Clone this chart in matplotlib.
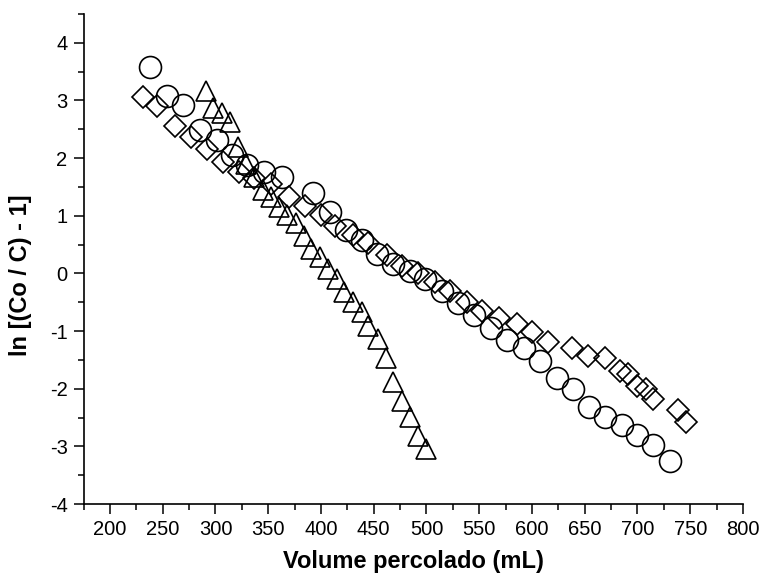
import matplotlib.pyplot as plt
from matplotlib.ticker import MultipleLocator

plt.rcParams["font.family"] = ["Liberation Sans", "DejaVu Sans"]
plt.rcParams["axes.unicode_minus"] = False

# circles
vol_circ = [238, 254, 269, 285, 301, 316, 330, 346, 363, 392, 409, 424, 439,
            453, 468, 484, 499, 515, 530, 545, 561, 576, 592, 608, 624, 639,
            654, 669, 685, 700, 715, 731]
ln_circ = [3.58, 3.08, 2.92, 2.49, 2.32, 2.06, 1.88, 1.76, 1.67, 1.40, 1.06,
           0.75, 0.58, 0.34, 0.17, 0.05, -0.10, -0.30, -0.52, -0.72, -0.95,
           -1.15, -1.30, -1.52, -1.82, -2.00, -2.32, -2.49, -2.63, -2.80,
           -2.98, -3.25]

# diamonds
vol_diam = [231, 245, 262, 277, 292, 307, 322, 337, 353, 370, 385, 400, 413,
            430, 445, 463, 477, 492, 508, 522, 538, 553, 569, 586, 600, 615,
            638, 653, 669, 683, 691, 700, 708, 715, 738, 746]
ln_diam = [3.06, 2.90, 2.55, 2.36, 2.15, 1.94, 1.76, 1.65, 1.55, 1.33, 1.17,
           1.02, 0.83, 0.67, 0.53, 0.32, 0.13, 0.00, -0.15, -0.30, -0.50,
           -0.65, -0.77, -0.87, -1.02, -1.19, -1.29, -1.43, -1.47, -1.70,
           -1.74, -1.96, -2.00, -2.18, -2.37, -2.58]

# triangles
vol_tri = [291, 298, 306, 314, 321, 329, 337, 345, 353, 360, 368, 376, 384,
           391, 399, 407, 415, 422, 430, 439, 445, 454, 462, 468, 477, 484,
           492, 500]
ln_tri = [3.17, 2.87, 2.79, 2.63, 2.20, 1.90, 1.68, 1.45, 1.33, 1.15, 1.02,
          0.88, 0.65, 0.42, 0.28, 0.08, -0.10, -0.32, -0.50, -0.67, -0.92,
          -1.14, -1.46, -1.88, -2.21, -2.49, -2.82, -3.05]

fig = plt.figure(figsize=(7.62, 5.81), dpi=100)
ax = fig.add_axes([0.1097, 0.1325, 0.8653, 0.8435])

mk = dict(linestyle="none", markerfacecolor="none", markeredgecolor="black",
          markeredgewidth=1.2)
ax.plot(vol_circ, ln_circ, marker="o", markersize=15.8, **mk)
ax.plot(vol_diam, ln_diam, marker="D", markersize=11.2, **mk)
ax.plot(vol_tri, ln_tri, marker="^", markersize=14.5, **mk)

ax.set_xlim(175, 800)
ax.set_ylim(-4, 4.5)
ax.xaxis.set_major_locator(MultipleLocator(50))
ax.xaxis.set_minor_locator(MultipleLocator(25))
ax.yaxis.set_major_locator(MultipleLocator(1))
ax.yaxis.set_minor_locator(MultipleLocator(0.5))

for side in ("top", "right"):
    ax.spines[side].set_visible(False)
for side in ("left", "bottom"):
    ax.spines[side].set_linewidth(1.2)

ax.tick_params(which="major", direction="out", length=7.5, width=1.1,
               labelsize=14.5, pad=4)
ax.tick_params(which="minor", direction="out", length=4.5, width=1.1)

ax.set_xlabel("Volume percolado (mL)", fontsize=17, fontweight="bold")
ax.set_ylabel("ln [(Co / C) - 1]", fontsize=17, fontweight="bold")
ax.xaxis.set_label_coords(0.5, -0.094)
ax.yaxis.set_label_coords(-0.079, 0.467)

fig.savefig("out.png", dpi=100)
